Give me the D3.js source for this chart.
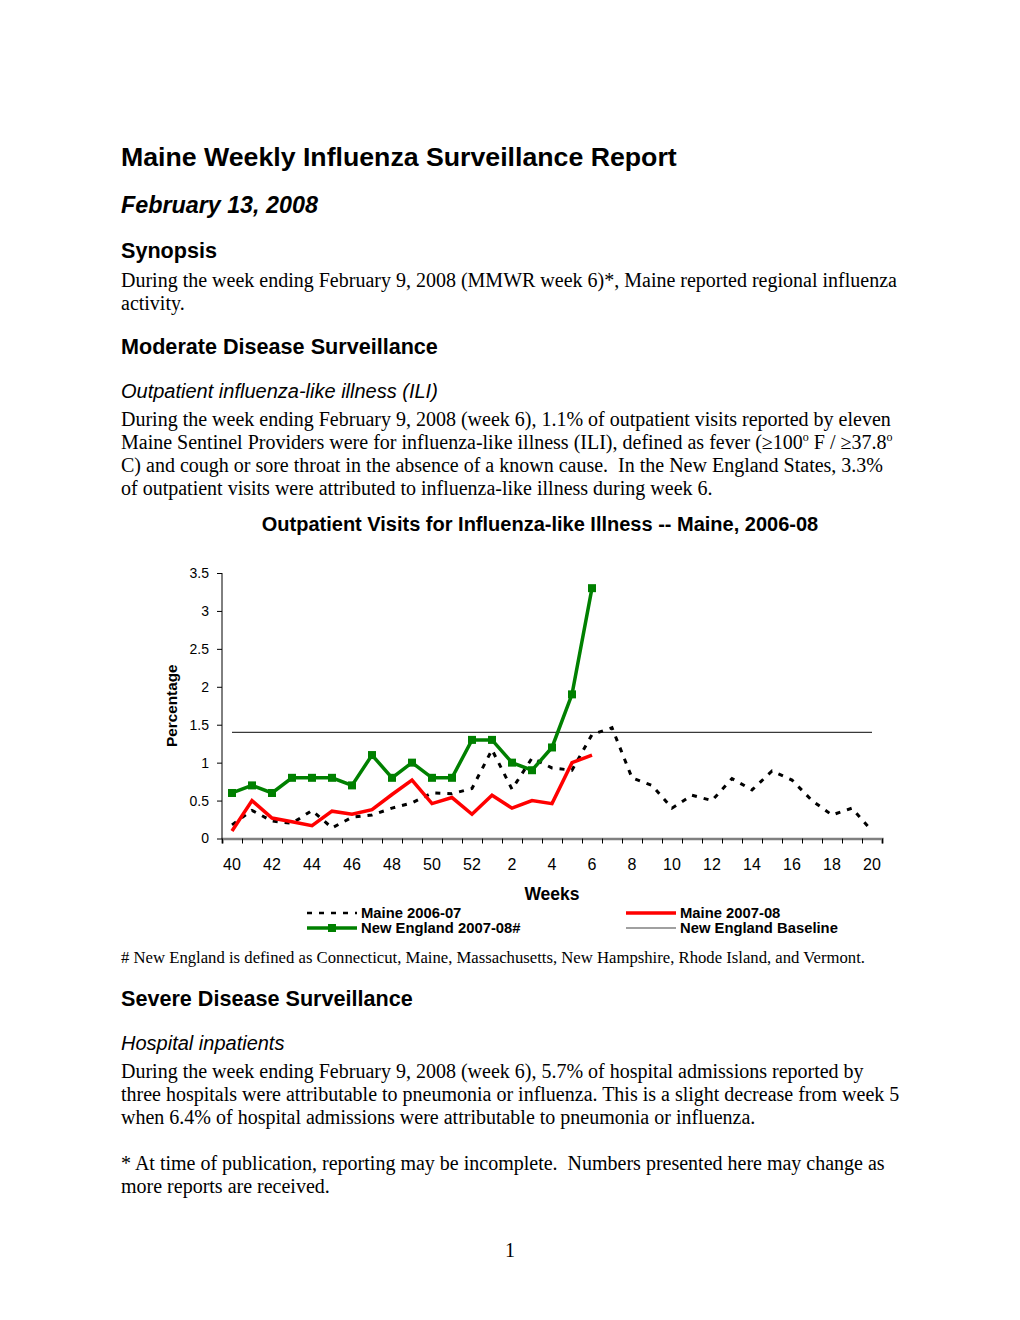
<!DOCTYPE html>
<html>
<head>
<meta charset="utf-8">
<script src="https://cdn.jsdelivr.net/npm/d3@7"></script>
<style>
	body { margin: 0; background: #fff; }
	svg text { white-space: pre; }
	.serif { font-family: "Liberation Serif", "Times New Roman", serif; }
	.sans { font-family: "Liberation Sans", Arial, sans-serif; }
</style>
</head>
<body>
<div id="page"></div>
<script>

// Weeks on the x axis (MMWR weeks 40..52, then 1..20)
const weeks = [40, 41, 42, 43, 44, 45, 46, 47, 48, 49, 50, 51, 52,
	1, 2, 3, 4, 5, 6, 7, 8, 9, 10, 11, 12, 13, 14, 15, 16, 17, 18, 19, 20];

const weekLabels = [40, 42, 44, 46, 48, 50, 52, 2, 4, 6, 8, 10, 12, 14, 16, 18, 20];

const maine0607 = [0.18, 0.37, 0.23, 0.20, 0.37, 0.14, 0.28, 0.31, 0.40, 0.47, 0.60, 0.59, 0.66,
	1.17, 0.65, 1.06, 0.93, 0.90, 1.37, 1.46, 0.80, 0.70, 0.40, 0.57, 0.50, 0.79, 0.64,
	0.89, 0.77, 0.50, 0.31, 0.40, 0.10];

const maine0708 = [0.10, 0.50, 0.27, 0.22, 0.17, 0.36, 0.32, 0.38, 0.58, 0.77, 0.46, 0.54, 0.32,
	0.57, 0.40, 0.50, 0.46, 1.00, 1.10];

const newEngland0708 = [0.6, 0.7, 0.6, 0.8, 0.8, 0.8, 0.7, 1.1, 0.8, 1.0, 0.8, 0.8, 1.3,
	1.3, 1.0, 0.9, 1.2, 1.9, 3.3];

const baselineValue = 1.4;

const yTicks = [0, 0.5, 1, 1.5, 2, 2.5, 3, 3.5];

const legendNames = ['Maine 2006-07', 'Maine 2007-08', 'New England 2007-08#', 'New England Baseline'];

const svg = d3.select('#page')
	.append('svg')
	.attr('width', 1020)
	.attr('height', 1320);

svg.append('rect').attr('width', 1020).attr('height', 1320).attr('fill', '#fff');

// ---- page text ----
const left = 121;

function addText(y, str, cls, size, weight, style) {
	return svg.append('text')
		.attr('class', cls)
		.attr('x', left)
		.attr('y', y)
		.attr('font-size', size)
		.attr('font-weight', weight || 'normal')
		.attr('font-style', style || 'normal')
		.attr('fill', '#000')
		.text(str);
}

addText(166, 'Maine Weekly Influenza Surveillance Report', 'sans', 26.7, 'bold');
addText(213, 'February 13, 2008', 'sans', 23.3, 'bold', 'italic');
addText(258, 'Synopsis', 'sans', 21.6, 'bold');
addText(287, 'During the week ending February 9, 2008 (MMWR week 6)*, Maine reported regional influenza', 'serif', 20);
addText(310, 'activity.', 'serif', 20);

addText(354, 'Moderate Disease Surveillance', 'sans', 21.6, 'bold');
addText(398, 'Outpatient influenza-like illness (ILI)', 'sans', 20, 'normal', 'italic');
addText(426, 'During the week ending February 9, 2008 (week 6), 1.1% of outpatient visits reported by eleven', 'serif', 20);

const feverLine = addText(449, '', 'serif', 20);
feverLine.append('tspan').text('Maine Sentinel Providers were for influenza-like illness (ILI), defined as fever (≥100');
feverLine.append('tspan').attr('font-size', 12).attr('dy', -8).text('o');
feverLine.append('tspan').attr('dy', 8).text(' F / ≥37.8');
feverLine.append('tspan').attr('font-size', 12).attr('dy', -8).text('o');

addText(472, 'C) and cough or sore throat in the absence of a known cause.  In the New England States, 3.3%', 'serif', 20);
addText(495, 'of outpatient visits were attributed to influenza-like illness during week 6.', 'serif', 20);

addText(963, '# New England is defined as Connecticut, Maine, Massachusetts, New Hampshire, Rhode Island, and Vermont.', 'serif', 16.7);

addText(1006, 'Severe Disease Surveillance', 'sans', 21.6, 'bold');
addText(1050, 'Hospital inpatients', 'sans', 20, 'normal', 'italic');
addText(1078, 'During the week ending February 9, 2008 (week 6), 5.7% of hospital admissions reported by', 'serif', 20);
addText(1101, 'three hospitals were attributable to pneumonia or influenza. This is a slight decrease from week 5', 'serif', 20);
addText(1124, 'when 6.4% of hospital admissions were attributable to pneumonia or influenza.', 'serif', 20);
addText(1170, '* At time of publication, reporting may be incomplete.  Numbers presented here may change as', 'serif', 20);
addText(1193, 'more reports are received.', 'serif', 20);

svg.append('text')
	.attr('class', 'serif')
	.attr('x', 510)
	.attr('y', 1257)
	.attr('text-anchor', 'middle')
	.attr('font-size', 20)
	.text('1');

// ---- chart ----
svg.append('text')
	.attr('class', 'sans')
	.attr('x', 540)
	.attr('y', 531)
	.attr('text-anchor', 'middle')
	.attr('font-size', 20)
	.attr('font-weight', 'bold')
	.text('Outpatient Visits for Influenza-like Illness -- Maine, 2006-08');

// Scales
const x = d3.scaleBand()
	.domain(weeks)
	.range([222, 882]);

const xEdge = d3.scaleLinear()
	.domain([0, weeks.length])
	.range([222, 882]);

const y = d3.scaleLinear()
	.domain([0, 3.5])
	.range([838.5, 573]);

const cx = (w) => x(w) + x.bandwidth() / 2;

// X axis: tick marks between categories, labels on every other week
const edgeAxis = svg.append('g')
	.attr('transform', 'translate(0, 838.5)')
	.call(d3.axisBottom(xEdge).tickValues(d3.range(weeks.length + 1)).tickSize(5).tickFormat(''));
edgeAxis.select('.domain').attr('stroke', '#808080').attr('stroke-width', 2.5);
edgeAxis.selectAll('.tick line').attr('stroke', '#000');

const labelAxis = svg.append('g')
	.attr('class', 'sans')
	.attr('transform', 'translate(0, 838.5)')
	.call(d3.axisBottom(x).tickValues(weekLabels).tickSize(0).tickPadding(20));
labelAxis.select('.domain').remove();
labelAxis.selectAll('text')
	.attr('font-family', '"Liberation Sans", Arial, sans-serif')
	.attr('font-size', 16)
	.attr('fill', '#000');

// Y axis
const leftAxis = svg.append('g')
	.attr('transform', 'translate(222, 0)')
	.call(d3.axisLeft(y).tickValues(yTicks).tickSize(5).tickPadding(8).tickFormat(d3.format('~g')));
leftAxis.select('.domain').attr('d', `M0,${y(3.5)}V${y(0)}`).attr('stroke', '#000');
leftAxis.selectAll('text')
	.attr('font-family', '"Liberation Sans", Arial, sans-serif')
	.attr('font-size', 14)
	.attr('fill', '#000');

svg.append('text')
	.attr('class', 'sans')
	.attr('transform', `translate(177, ${(y(0) + y(3.5)) / 2}) rotate(-90)`)
	.attr('text-anchor', 'middle')
	.attr('font-size', 15.3)
	.attr('font-weight', 'bold')
	.text('Percentage');

svg.append('text')
	.attr('class', 'sans')
	.attr('x', 552)
	.attr('y', 900)
	.attr('text-anchor', 'middle')
	.attr('font-size', 17.5)
	.attr('font-weight', 'bold')
	.text('Weeks');

// Baseline
svg.append('line')
	.attr('x1', cx(weeks[0]))
	.attr('x2', cx(weeks[weeks.length - 1]))
	.attr('y1', y(baselineValue))
	.attr('y2', y(baselineValue))
	.attr('stroke', '#3a3a3a')
	.attr('stroke-width', 1.3);

const line = d3.line()
	.x((d, i) => cx(weeks[i]))
	.y((d) => y(d));

svg.append('path')
	.datum(maine0607)
	.attr('d', line)
	.attr('fill', 'none')
	.attr('stroke', '#000')
	.attr('stroke-width', 3)
	.attr('stroke-dasharray', '5,7');

svg.append('path')
	.datum(maine0708)
	.attr('d', line)
	.attr('fill', 'none')
	.attr('stroke', '#ff0000')
	.attr('stroke-width', 3.5)
	.attr('stroke-linejoin', 'miter');

svg.append('path')
	.datum(newEngland0708)
	.attr('d', line)
	.attr('fill', 'none')
	.attr('stroke', '#008000')
	.attr('stroke-width', 3.5);

svg.selectAll('rect.ne-marker')
	.data(newEngland0708)
	.enter()
		.append('rect')
		.attr('class', 'ne-marker')
		.attr('x', (d, i) => cx(weeks[i]) - 4)
		.attr('y', (d) => y(d) - 4)
		.attr('width', 8)
		.attr('height', 8)
		.attr('fill', '#008000');

// Legend
const legend = svg.append('g').attr('class', 'sans');
const legendItems = [
	{ name: legendNames[0], x: 307, y: 913, color: '#000', width: 2.5, dash: '5,7', marker: false },
	{ name: legendNames[1], x: 626, y: 913, color: '#ff0000', width: 3.5, dash: null, marker: false },
	{ name: legendNames[2], x: 307, y: 928, color: '#008000', width: 3.5, dash: null, marker: true },
	{ name: legendNames[3], x: 626, y: 928, color: '#808080', width: 1.5, dash: null, marker: false }
];

legendItems.forEach((item) => {
	legend.append('line')
		.attr('x1', item.x)
		.attr('x2', item.x + 50)
		.attr('y1', item.y)
		.attr('y2', item.y)
		.attr('stroke', item.color)
		.attr('stroke-width', item.width)
		.attr('stroke-dasharray', item.dash);
	if (item.marker) {
		legend.append('rect')
			.attr('x', item.x + 21)
			.attr('y', item.y - 4)
			.attr('width', 8)
			.attr('height', 8)
			.attr('fill', item.color);
	}
	legend.append('text')
		.attr('x', item.x + 54)
		.attr('y', item.y + 5)
		.attr('font-size', 14.8)
		.attr('font-weight', 'bold')
		.text(item.name);
});

</script>
</body>
</html>
